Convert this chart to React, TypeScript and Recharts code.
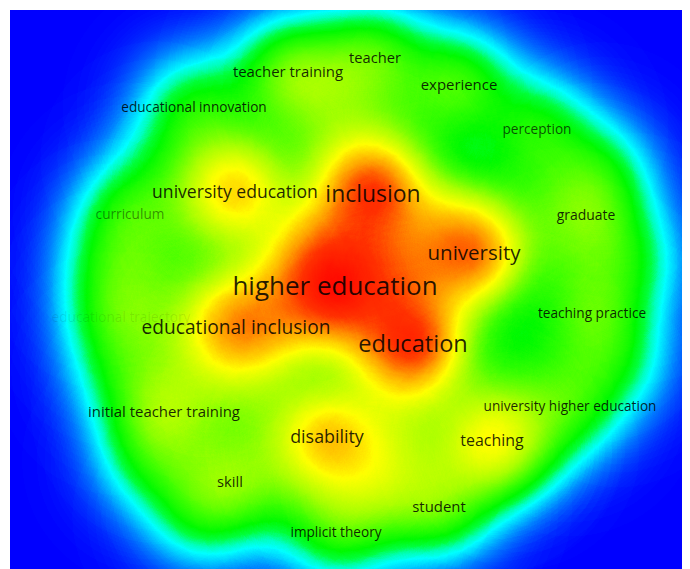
import React from 'react';
import { ScatterChart, Scatter, XAxis, YAxis } from 'recharts';

// labelled keywords (position in map units, occurrences)
const keywords = [
  'teacher', 'teacher training', 'experience', 'educational innovation', 'perception',
  'university education', 'inclusion', 'curriculum', 'graduate', 'university',
  'higher education', 'teaching practice', 'educational trajectory', 'educational inclusion',
  'education', 'initial teacher training', 'university higher education', 'disability',
  'teaching', 'skill', 'student', 'implicit theory',
];
const keywordX = [375, 288, 459, 194, 537, 235, 373, 130, 586, 474, 335, 592, 121, 236, 413, 164, 570, 327, 492, 230, 439, 336];
const keywordY = [57, 71, 84, 106, 128, 191, 193, 213, 214, 252, 285, 312, 316, 327, 343, 411, 405, 436, 440, 481, 506, 531];
const keywordOccurrences = [5, 5.5, 5.5, 3, 3, 13, 38, 3, 3.5, 25, 58, 3, 3, 19, 42, 5.5, 3, 14, 8, 5, 5.5, 3];

// keywords whose labels are hidden in the map (they only add density)
const hiddenX = [310, 355, 400, 380, 300, 360, 405, 440, 265, 460, 215,
  160, 115, 122, 150, 200, 520, 615, 630, 600,
  200, 170, 200, 280, 390, 500, 420, 300, 520, 560, 520, 260, 390, 370, 330,
  235, 325, 490];
const hiddenY = [250, 240, 280, 315, 305, 165, 380, 225, 320, 255, 335,
  160, 265, 370, 460, 515, 450, 360, 260, 170,
  240, 290, 390, 480, 470, 390, 130, 125, 190, 260, 340, 400, 450, 490, 90,
  188, 440, 445];
const hiddenOccurrences = [6, 8, 6, 8, 5, 4, 3, 3, 5, 5, 1,
  0, 1, 0.5, 1, 1, 0, 1, 1, 1,
  0, 0, 0, 0, 0, 0, 0, 0, 0, 0, 0, 1, 1, 1, 1,
  4, 2, 1.5];

const faintLabels: Record<string, number> = {
  curriculum: 0.45,
  'educational trajectory': 0.1,
  perception: 0.7,
};

const labelled = keywords.map((label, i) => ({
  label, x: keywordX[i], y: keywordY[i], occ: keywordOccurrences[i],
}));
const hidden = hiddenX.map((x, i) => ({ label: '', x, y: hiddenY[i], occ: hiddenOccurrences[i] }));
const allItems = [...labelled, ...hidden];

const SIGMA = 42;
const KERNEL_SPAN = 3.6; // kernel radius in sigmas
const KERNEL_R = SIGMA * KERNEL_SPAN;

const kernelAt = (d: number) => Math.exp(-(d * d) / 2);
const kernelStops = Array.from({ length: 19 }, (_, k) => {
  const t = k / 18;
  const d = t * KERNEL_SPAN;
  const edge = kernelAt(KERNEL_SPAN);
  return { offset: t, opacity: Math.max(0, (kernelAt(d) - edge) / (1 - edge)) };
});

// density -> colour (blue, cyan, green, yellow, red)
const colourStops: [number, number, number, number][] = [
  [0.0, 0, 0, 255],
  [0.04, 0, 40, 255],
  [0.11, 0, 120, 255],
  [0.18, 0, 210, 255],
  [0.22, 0, 255, 255],
  [0.26, 0, 255, 190],
  [0.31, 0, 255, 60],
  [0.36, 0, 250, 0],
  [0.44, 60, 255, 0],
  [0.56, 170, 255, 0],
  [0.68, 255, 255, 0],
  [0.8, 255, 160, 0],
  [0.9, 255, 50, 0],
  [1.0, 255, 0, 0],
];

function colourTable(ch: number) {
  const out: string[] = [];
  for (let i = 0; i <= 100; i++) {
    const t = i / 100;
    let j = 0;
    while (j < colourStops.length - 2 && colourStops[j + 1][0] < t) j++;
    const a = colourStops[j];
    const b = colourStops[j + 1];
    const f = Math.min(1, Math.max(0, (t - a[0]) / (b[0] - a[0])));
    out.push(((a[ch] + (b[ch] - a[ch]) * f) / 255).toFixed(3));
  }
  return out.join(' ');
}

const blobOpacity = (occ: number) => Math.min(0.92, 0.12 + 0.11 * Math.sqrt(occ));
const fontSize = (occ: number) => 10 + 2.1 * Math.sqrt(occ);

const Blob = (props: any) => (
  <circle cx={props.cx} cy={props.cy} r={KERNEL_R} fill="url(#kernel)" fillOpacity={blobOpacity(props.payload.occ)} />
);

const Label = (props: any) => {
  const p = props.payload;
  return (
    <text
      x={props.cx}
      y={props.cy}
      textAnchor="middle"
      dominantBaseline="central"
      fontFamily="'Open Sans', sans-serif"
      fontSize={fontSize(p.occ)}
      fill="#000"
      fillOpacity={faintLabels[p.label] ?? 0.85}
    >
      {p.label}
    </text>
  );
};

export default function App() {
  return (
    <div style={{ position: 'relative', width: 682, height: 561 }}>
      <style>{'.density-layer { filter: url(#densityFilter); }'}</style>
      <svg width={0} height={0} style={{ position: 'absolute' }}>
        <defs>
          <radialGradient id="kernel">
            {kernelStops.map((s) => (
              <stop key={s.offset} offset={s.offset} stopColor="#fff" stopOpacity={s.opacity} />
            ))}
          </radialGradient>
          <filter
            id="densityFilter"
            filterUnits="userSpaceOnUse"
            x={2}
            y={2}
            width={680}
            height={559}
            colorInterpolationFilters="sRGB"
          >
            <feColorMatrix in="SourceGraphic" type="matrix" values="0 0 0 1 0  0 0 0 1 0  0 0 0 1 0  0 0 0 0 1" />
            <feComponentTransfer>
              <feFuncR type="table" tableValues={colourTable(1)} />
              <feFuncG type="table" tableValues={colourTable(2)} />
              <feFuncB type="table" tableValues={colourTable(3)} />
            </feComponentTransfer>
          </filter>
        </defs>
      </svg>
      <ScatterChart width={682} height={561} margin={{ top: 2, left: 2, right: 0, bottom: 0 }}>
        <XAxis type="number" dataKey="x" domain={[10, 690]} allowDataOverflow hide />
        <YAxis type="number" dataKey="y" domain={[10, 569]} reversed allowDataOverflow hide />
        <Scatter data={allItems} shape={Blob} className="density-layer" isAnimationActive={false} />
        <Scatter data={labelled} shape={Label} isAnimationActive={false} />
      </ScatterChart>
    </div>
  );
}
